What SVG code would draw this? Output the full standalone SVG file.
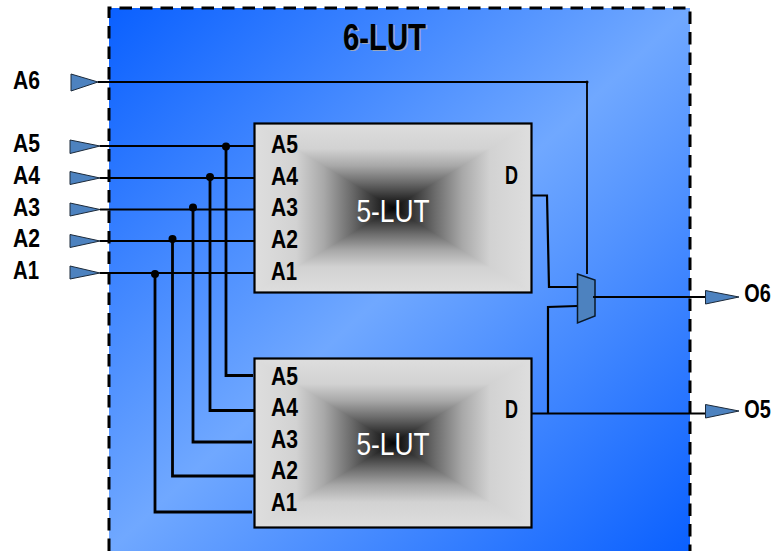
<svg xmlns="http://www.w3.org/2000/svg" width="773" height="551" viewBox="0 0 773 551">
<defs>
<linearGradient id="bg" x1="0" y1="0" x2="1" y2="1"><stop offset="0" stop-color="#0a60ff"/><stop offset="0.5" stop-color="#70a8ff"/><stop offset="1" stop-color="#0a60ff"/></linearGradient>
<linearGradient id="hl" x1="0" y1="0" x2="1" y2="0"><stop offset="0" stop-color="#dedede"/><stop offset="0.3" stop-color="#d2d2d2"/><stop offset="0.5" stop-color="#a8a8a8"/><stop offset="0.7" stop-color="#6a6a6a"/><stop offset="0.85" stop-color="#383838"/><stop offset="1" stop-color="#060606"/></linearGradient>
<linearGradient id="hr" x1="1" y1="0" x2="0" y2="0"><stop offset="0" stop-color="#dedede"/><stop offset="0.3" stop-color="#d2d2d2"/><stop offset="0.5" stop-color="#a8a8a8"/><stop offset="0.7" stop-color="#6a6a6a"/><stop offset="0.85" stop-color="#383838"/><stop offset="1" stop-color="#060606"/></linearGradient>
<linearGradient id="vt" x1="0" y1="0" x2="0" y2="1"><stop offset="0" stop-color="#dedede"/><stop offset="0.3" stop-color="#d2d2d2"/><stop offset="0.5" stop-color="#a8a8a8"/><stop offset="0.7" stop-color="#6a6a6a"/><stop offset="0.85" stop-color="#383838"/><stop offset="1" stop-color="#060606"/></linearGradient>
<linearGradient id="vb" x1="0" y1="1" x2="0" y2="0"><stop offset="0" stop-color="#dedede"/><stop offset="0.3" stop-color="#d2d2d2"/><stop offset="0.5" stop-color="#a8a8a8"/><stop offset="0.7" stop-color="#6a6a6a"/><stop offset="0.85" stop-color="#383838"/><stop offset="1" stop-color="#060606"/></linearGradient>
<g id="lutfill">
<rect width="139" height="169" fill="url(#hl)"/>
<rect x="138.500" width="138.500" height="169" fill="url(#hr)"/>
<polygon points="0,0 277,0 138.500,84.500" fill="url(#vt)"/>
<polygon points="0,169 277,169 138.500,84.500" fill="url(#vb)"/>
<rect width="277" height="169" fill="none" stroke="#000" stroke-width="2.200"/>
</g>
</defs>
<style>
text{font-family:"Liberation Sans",Arial,sans-serif}
.l{font-size:25.500px;font-weight:700;fill:#000}
.t{font-size:32px;fill:#fff}
.w{fill:none;stroke:#000;stroke-width:2.200}
.v{fill:none;stroke:#000;stroke-width:2.800}
.h{fill:none;stroke:#000;stroke-width:1.800}
.b{fill:#4d82bf;stroke:#1c2a3a;stroke-width:1}
.d{fill:#000}
</style>
<g id="frame">
<rect x="109" y="8" width="581" height="543" fill="url(#bg)"/>
<path d="M109 551V8H690V551" fill="none" stroke="#000" stroke-width="3" stroke-dasharray="12.500 8"/>
<text x="343" y="49.500" font-size="37" font-weight="700" fill="#9aa6bc" textLength="83" lengthAdjust="spacingAndGlyphs" transform="translate(1.500 1.500)">6-LUT</text>
<text x="343" y="49.500" font-size="37" font-weight="700" fill="#000" textLength="83" lengthAdjust="spacingAndGlyphs">6-LUT</text>
</g>
<g id="lut-top">
<use href="#lutfill" x="254.500" y="123.500"/>
<text class="t" x="356.500" y="221.500" textLength="73" lengthAdjust="spacingAndGlyphs">5-LUT</text>
<text class="l" x="271" y="153" textLength="27" lengthAdjust="spacingAndGlyphs">A5</text>
<text class="l" x="271" y="184.700" textLength="27" lengthAdjust="spacingAndGlyphs">A4</text>
<text class="l" x="271" y="216.300" textLength="27" lengthAdjust="spacingAndGlyphs">A3</text>
<text class="l" x="271" y="248" textLength="27" lengthAdjust="spacingAndGlyphs">A2</text>
<text class="l" x="271" y="279.700" textLength="26" lengthAdjust="spacingAndGlyphs">A1</text>
<text class="l" x="505" y="183.500" textLength="13" lengthAdjust="spacingAndGlyphs">D</text>
</g>
<g id="lut-bottom">
<use href="#lutfill" x="254.500" y="358.500"/>
<text class="t" x="356.500" y="455" textLength="73" lengthAdjust="spacingAndGlyphs">5-LUT</text>
<text class="l" x="271" y="385" textLength="27" lengthAdjust="spacingAndGlyphs">A5</text>
<text class="l" x="271" y="416" textLength="27" lengthAdjust="spacingAndGlyphs">A4</text>
<text class="l" x="271" y="447.700" textLength="27" lengthAdjust="spacingAndGlyphs">A3</text>
<text class="l" x="271" y="479.300" textLength="27" lengthAdjust="spacingAndGlyphs">A2</text>
<text class="l" x="271" y="511" textLength="26" lengthAdjust="spacingAndGlyphs">A1</text>
<text class="l" x="505" y="417.700" textLength="13" lengthAdjust="spacingAndGlyphs">D</text>
</g>
<g id="connectors">
<path class="h" d="M98 82H587V274"/>
<path class="w" d="M100 146H254M100 178H254M100 209.500H254M100 241H254M100 273H254"/>
<path class="v" d="M226 146V375.500H253M210 177V410.500H254M193 207V442H252M172.500 239V476H254M155 274V512H252"/>
<circle class="d" cx="226" cy="146.500" r="4"/><circle class="d" cx="210" cy="177" r="4"/><circle class="d" cx="193" cy="207.500" r="4"/><circle class="d" cx="172.500" cy="239" r="4"/><circle class="d" cx="155" cy="274" r="4"/>
<circle class="d" cx="587" cy="82" r="1.500"/>
<path class="w" d="M532 195.500H547L549 287H577M577 306L548 307V413.500M532 413.500H706M593 297H706"/>
</g>
<g id="A6"><polygon class="b" points="71,74 71,91 98,82"/><text class="l" x="13" y="88.500" textLength="27" lengthAdjust="spacingAndGlyphs">A6</text></g>
<g id="A5"><polygon class="b" points="70,140 70,153.500 100,146"/><text class="l" x="13" y="152.300" textLength="27" lengthAdjust="spacingAndGlyphs">A5</text></g>
<g id="A4"><polygon class="b" points="70,171.500 70,184.500 100,178"/><text class="l" x="13" y="184" textLength="27" lengthAdjust="spacingAndGlyphs">A4</text></g>
<g id="A3"><polygon class="b" points="70,203 70,216 100,209.500"/><text class="l" x="13" y="215.700" textLength="27" lengthAdjust="spacingAndGlyphs">A3</text></g>
<g id="A2"><polygon class="b" points="70,234.500 70,247.500 100,241"/><text class="l" x="13" y="246.700" textLength="27" lengthAdjust="spacingAndGlyphs">A2</text></g>
<g id="A1"><polygon class="b" points="70,266 70,279 100,273"/><text class="l" x="13" y="278.700" textLength="26" lengthAdjust="spacingAndGlyphs">A1</text></g>
<g id="mux"><polygon points="577.500,274 595,280 595,316 577.500,323" fill="#4d82bf" stroke="#0a1a2a" stroke-width="1.500"/><path d="M593 297H597" stroke="#000" stroke-width="1.800"/></g>
<g id="O6"><polygon class="b" points="705.500,290.500 705.500,304 739,297"/><text class="l" transform="translate(744.300 301.700) scale(.78 1)">O6</text></g>
<g id="O5"><polygon class="b" points="705.500,404.500 705.500,418 739,411"/><text class="l" transform="translate(744.300 417.700) scale(.78 1)">O5</text></g>
</svg>
